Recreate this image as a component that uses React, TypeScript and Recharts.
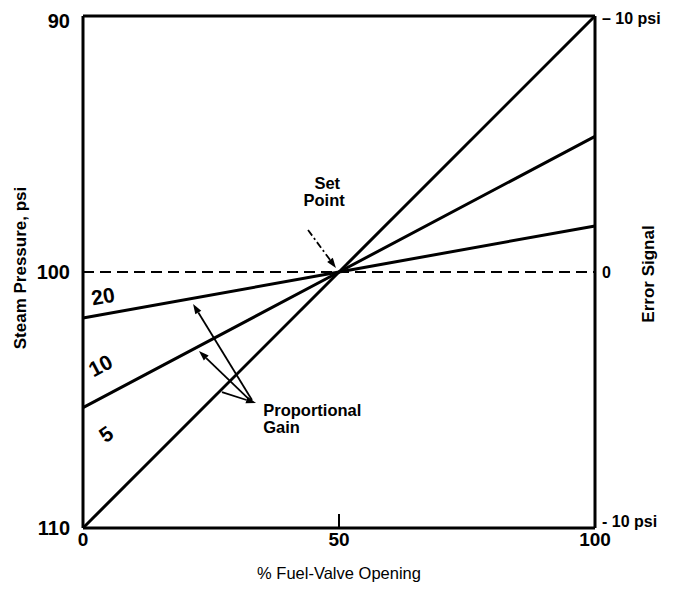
import React from 'react';
import { LineChart, Line, XAxis, YAxis, ReferenceLine, ReferenceDot } from 'recharts';

// % fuel-valve opening
const VALVE = [0, 50, 100];
// steam pressure (psi) for each proportional gain
const GAIN_5 = [110, 100, 90];
const GAIN_10 = [105.3, 100, 94.7];
const GAIN_20 = [101.8, 100, 98.2];

const X_TICKS = [0, 50, 100];
const LEFT_TICKS = [90, 100, 110];
const RIGHT_TICKS = [-10, 0, 10];
const RIGHT_LABELS: Record<string, string> = { '10': '– 10 psi', '0': '0', '-10': '- 10 psi' };

const LINE_LABELS = [
  { x: 3.9, y: 100.94, text: '20', angle: -10 },
  { x: 3.4, y: 103.65, text: '10', angle: -28 },
  { x: 4.5, y: 106.33, text: '5', angle: -35 },
];

const NOTES = [
  { x: 47.7, y: 96.52, text: 'Set', anchor: 'middle' },
  { x: 47.1, y: 97.19, text: 'Point', anchor: 'middle' },
  { x: 35.2, y: 105.39, text: 'Proportional', anchor: 'start' },
  { x: 35.2, y: 106.05, text: 'Gain', anchor: 'start' },
];

const ARROWS = [
  { from: [43.95, 98.36], to: [49.4, 99.84], dash: '7 3 2 3' },
  { from: [33.0, 105.0], to: [21.5, 101.25], dash: undefined },
  { from: [32.8, 105.04], to: [22.66, 103.09], dash: undefined },
  { from: [27.15, 104.69], to: [33.8, 105.12], dash: undefined },
];

const data = VALVE.map((v, i) => ({ valve: v, g5: GAIN_5[i], g10: GAIN_10[i], g20: GAIN_20[i] }));

const FONT = '"Liberation Sans", Arial, sans-serif';

const arrowShape = (dash?: string) => (p: any) => {
  const { x1, y1, x2, y2 } = p;
  const ang = Math.atan2(y2 - y1, x2 - x1);
  const len = 10;
  const w = 3.5;
  const bx = x2 - len * Math.cos(ang);
  const by = y2 - len * Math.sin(ang);
  const pts = [
    `${x2},${y2}`,
    `${bx - w * Math.sin(ang)},${by + w * Math.cos(ang)}`,
    `${bx + w * Math.sin(ang)},${by - w * Math.cos(ang)}`,
  ].join(' ');
  return (
    <g>
      <line x1={x1} y1={y1} x2={bx} y2={by} stroke="#000" strokeWidth={1.8} strokeDasharray={dash} />
      <polygon points={pts} fill="#000" />
    </g>
  );
};

const rotatedTitle = (text: string, x: number, y: number) => () => (
  <text
    x={x}
    y={y}
    transform={`rotate(-90 ${x} ${y})`}
    textAnchor="middle"
    dominantBaseline="central"
    fontSize={17}
    fontWeight={700}
    fontFamily={FONT}
    fill="#000"
  >
    {text}
  </text>
);

// nudge the end labels inward a little, like the original print
const leftTick = (p: any) => {
  const v = p.payload.value;
  const dy = v === 90 ? 5 : 0;
  return (
    <text x={p.x} y={p.y + dy} dy="0.355em" textAnchor="end" fontSize={20} fontWeight={700} fontFamily={FONT} fill="#000">
      {v}
    </text>
  );
};

const rightTick = (p: any) => {
  const v = p.payload.value;
  const dy = v === -10 ? -7 : v === 10 ? 2 : 0;
  return (
    <text x={p.x} y={p.y + dy} dy="0.355em" textAnchor="start" fontSize={16} fontWeight={700} fontFamily={FONT} fill="#000">
      {RIGHT_LABELS[String(v)]}
    </text>
  );
};

export default function App() {
  return (
    <div style={{ position: 'absolute', left: 0, top: 0, background: '#fff' }}>
      <LineChart width={677} height={589} data={data} margin={{ top: 16, right: 5, bottom: 5, left: 5 }}>
        <XAxis
          dataKey="valve"
          type="number"
          domain={[0, 100]}
          ticks={X_TICKS}
          height={56}
          tickLine={false}
          tickSize={3}
          tickMargin={2}
          axisLine={{ stroke: '#000', strokeWidth: 3 }}
          tick={{ fill: '#000', fontSize: 19, fontWeight: 700, fontFamily: FONT }}
          label={{
            content: (p: any) => (
              <text x={p.viewBox.x + p.viewBox.width / 2} y={579} textAnchor="middle" fontSize={16.5} fontFamily={FONT} fill="#000">
                % Fuel-Valve Opening
              </text>
            ),
          }}
        />
        <YAxis
          yAxisId="left"
          type="number"
          domain={[90, 110]}
          reversed
          ticks={LEFT_TICKS}
          width={78}
          tickLine={false}
          tickSize={0}
          tickMargin={13}
          axisLine={{ stroke: '#000', strokeWidth: 3 }}
          tick={leftTick}
          label={{ content: rotatedTitle('Steam Pressure, psi', 20, 268) }}
        />
        <YAxis
          yAxisId="right"
          orientation="right"
          type="number"
          domain={[-10, 10]}
          allowDataOverflow
          ticks={RIGHT_TICKS}
          width={77}
          tickLine={false}
          tickSize={0}
          tickMargin={7}
          axisLine={{ stroke: '#000', strokeWidth: 3 }}
          tick={rightTick}
          label={{ content: rotatedTitle('Error Signal', 648, 274) }}
        />
        <ReferenceLine yAxisId="left" y={90} stroke="#000" strokeWidth={3} />
        <ReferenceLine yAxisId="left" y={100} stroke="#000" strokeWidth={2.2} strokeDasharray="11 6" />
        <ReferenceLine
          yAxisId="left"
          segment={[{ x: 50, y: 110 }, { x: 50, y: 109.45 }]}
          stroke="#000"
          strokeWidth={2}
        />
        <Line yAxisId="left" dataKey="g5" stroke="#000" strokeWidth={3} dot={false} isAnimationActive={false} />
        <Line yAxisId="left" dataKey="g10" stroke="#000" strokeWidth={3} dot={false} isAnimationActive={false} />
        <Line yAxisId="left" dataKey="g20" stroke="#000" strokeWidth={3} dot={false} isAnimationActive={false} />
        {ARROWS.map((a, i) => (
          <ReferenceLine
            key={'a' + i}
            yAxisId="left"
            segment={[{ x: a.from[0], y: a.from[1] }, { x: a.to[0], y: a.to[1] }]}
            shape={arrowShape(a.dash)}
          />
        ))}
        {LINE_LABELS.map((l, i) => (
          <ReferenceDot
            key={'l' + i}
            yAxisId="left"
            x={l.x}
            y={l.y}
            r={0}
            shape={(p: any) => (
              <text
                x={p.cx}
                y={p.cy}
                transform={`rotate(${l.angle} ${p.cx} ${p.cy})`}
                textAnchor="middle"
                dominantBaseline="central"
                fontSize={21}
                fontWeight={700}
                fontFamily={FONT}
                fill="#000"
              >
                {l.text}
              </text>
            )}
          />
        ))}
        {NOTES.map((n, i) => (
          <ReferenceDot
            key={'n' + i}
            yAxisId="left"
            x={n.x}
            y={n.y}
            r={0}
            shape={(p: any) => (
              <text
                x={p.cx}
                y={p.cy}
                textAnchor={n.anchor as any}
                dominantBaseline="central"
                fontSize={16.5}
                fontWeight={700}
                fontFamily={FONT}
                fill="#000"
              >
                {n.text}
              </text>
            )}
          />
        ))}
      </LineChart>
    </div>
  );
}
